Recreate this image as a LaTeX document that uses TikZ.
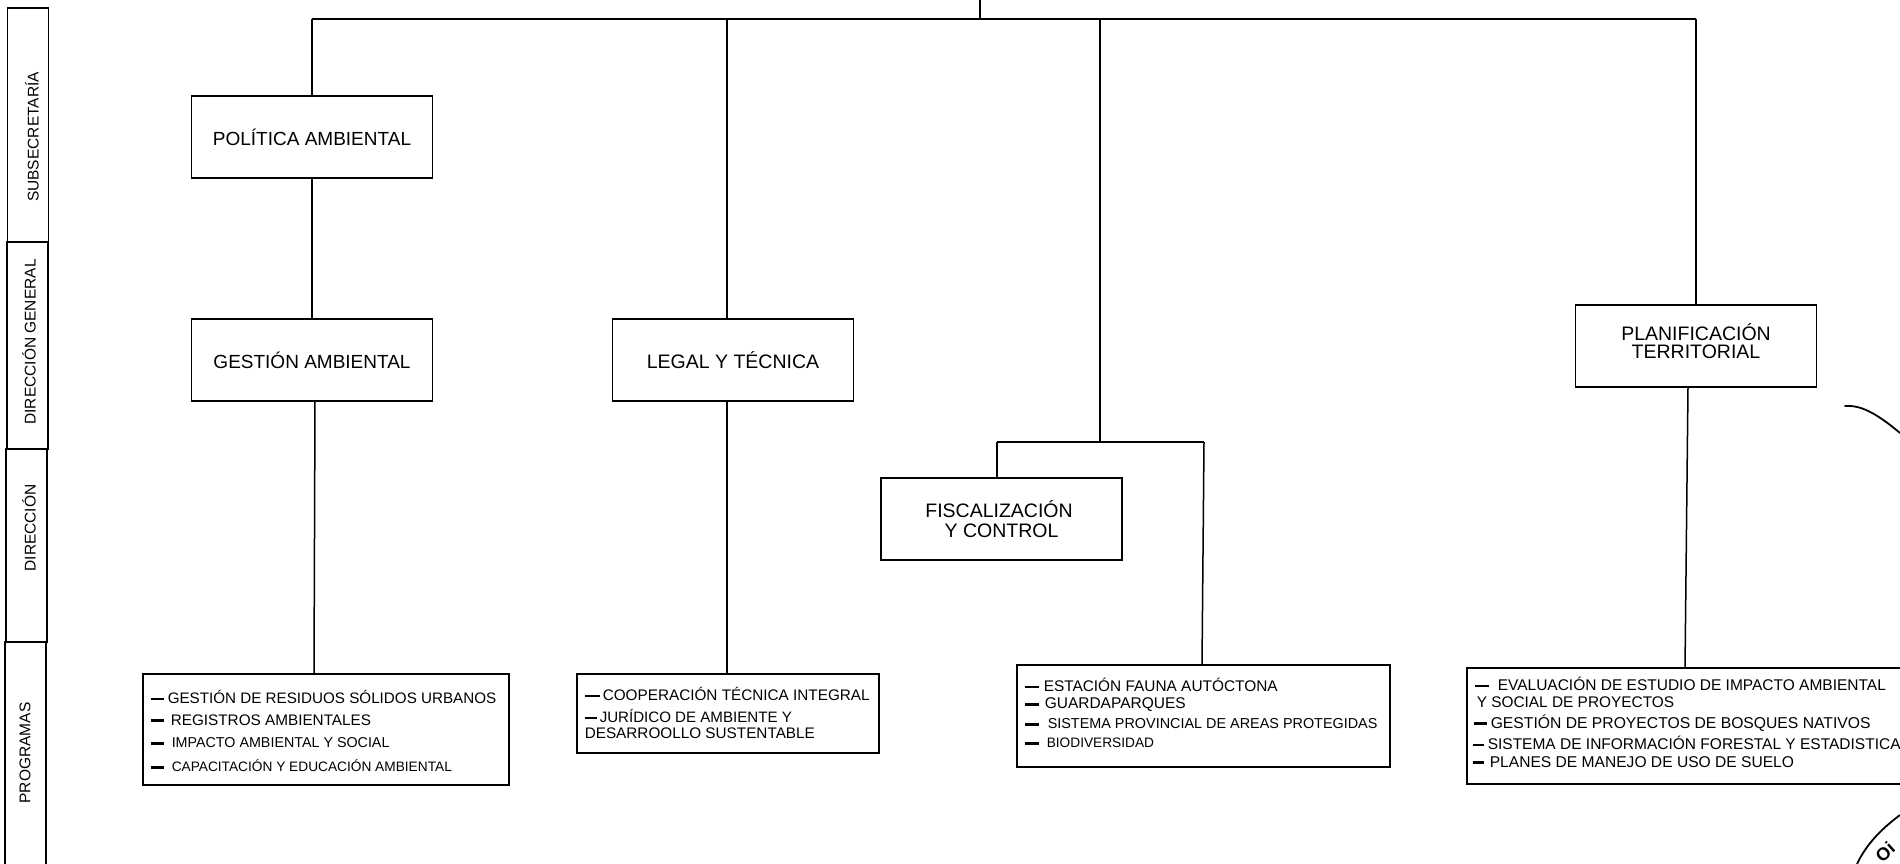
\documentclass[tikz,border=0pt]{standalone}
\usepackage{fontspec}
\setmainfont{Liberation Sans}
\newcommand{\itemdash}[2][13]{\rule[.22em]{#1pt}{2.6pt}\hspace*{#2pt}}

\begin{document}
\begin{tikzpicture}[x=1pt, y=-1pt, line width=1.5pt, node distance={223pt},
    main/.style = {draw, minimum width=241pt, minimum height=82pt, inner sep=0pt, align=center, font=\fontsize{19.5}{18.5}\selectfont},
    prog/.style = {draw, inner sep=0pt},
    side/.style = {draw, inner sep=0pt, minimum width=41pt},
    sidetext/.style = {rotate=90, inner sep=0pt, font=\fontsize{15.5}{16}\selectfont},
    item/.style = {anchor=west, inner sep=0pt, font=\fontsize{#1}{14}\selectfont}]
    \useasboundingbox (0,0) rectangle (1900,864);

    % left column
    \node[side, minimum height=234pt] (sub) at (28,125) {};
    \node[side, minimum height=207pt] (dirg) at (27.5,345.5) {};
    \node[side, minimum height=193pt] (dir) at (26.5,545.5) {};
    \node[side, minimum height=228pt] (progr) at (25.5,756) {};
    \node[sidetext] (subt) at (32,137) {SUBSECRETARÍA};
    \node[sidetext] (dirgt) at (29,342) {DIRECCIÓN GENERAL};
    \node[sidetext] (dirt) at (29,528) {DIRECCIÓN};
    \node[sidetext] (progrt) at (25,753) {PROGRAMAS};

    % boxes
    \node[main, font=\fontsize{19}{18.5}\selectfont] (politica) at (312,137) {POLÍTICA AMBIENTAL};
    \node[main, font=\fontsize{19}{18.5}\selectfont] (gestion) [below of=politica] {GESTIÓN AMBIENTAL};
    \node[main] (legal) at (733,360) {LEGAL Y TÉCNICA};
    \node[main] (fiscal) at (1001.5,519) {FISCALIZACIÓN\hspace*{5pt}\\[1.5pt] Y CONTROL};
    \node[main] (planif) at (1696,346) {PLANIFICACIÓN\\TERRITORIAL\\[-8.5pt]};

    \node[prog, minimum width=366pt, minimum height=111pt] (prog1) at (326,729.5) {};
    \node[prog, minimum width=302pt, minimum height=79pt] (prog2) at (728,713.5) {};
    \node[prog, minimum width=373pt, minimum height=102pt] (prog3) at (1203.5,716) {};
    \node[prog, minimum width=440pt, minimum height=116pt] (prog4) at (1687,726) {};

    % program lines
    \node[item=15.2] (a1) at (150,697) {\itemdash{4}GESTIÓN DE RESIDUOS SÓLIDOS URBANOS};
    \node[item=15.3] (a2) at (150,720) {\itemdash{7}REGISTROS AMBIENTALES};
    \node[item=14.3] (a3) at (150,743) {\itemdash{8}IMPACTO AMBIENTAL Y SOCIAL};
    \node[item=13.7] (a4) at (150,766) {\itemdash{8}CAPACITACIÓN Y EDUCACIÓN AMBIENTAL};

    \node[item=15.3] (b1) at (584,694) {\itemdash[15]{3}COOPERACIÓN TÉCNICA INTEGRAL};
    \node[item=15.1] (b2) at (584,716) {\itemdash[12]{3}JURÍDICO DE AMBIENTE Y};
    \node[item=15.3] (b3) at (584,733) {DESARROOLLO SUSTENTABLE};

    \node[item=15.4] (c1) at (1024,685) {\itemdash[14]{5}ESTACIÓN FAUNA AUTÓCTONA};
    \node[item=15.5] (c2) at (1024,705) {\itemdash[14]{6}GUARDAPARQUES};
    \node[item=14.4] (c3) at (1024,724) {\itemdash[14]{9}SISTEMA PROVINCIAL DE AREAS PROTEGIDAS};
    \node[item=13.7] (c4) at (1024,743) {\itemdash[14]{8}BIODIVERSIDAD};

    \node[item=15.5] (d1) at (1474,684) {\itemdash[14]{9}EVALUACIÓN DE ESTUDIO DE IMPACTO AMBIENTAL};
    \node[item=15.4] (d2) at (1476,702) {Y SOCIAL DE PROYECTOS};
    \node[item=15.7] (d3) at (1473,723) {\itemdash{4}GESTIÓN DE PROYECTOS DE BOSQUES NATIVOS};
    \node[item=15.5] (d4) at (1472,743) {\itemdash[11]{4}SISTEMA DE INFORMACIÓN FORESTAL Y ESTADISTICA};
    \node[item=15.6] (d5) at (1472,762) {\itemdash[11]{6}PLANES DE MANEJO DE USO DE SUELO};

    % top bar
    \coordinate (top) at (980,0);
    \coordinate (bar) at (980,19);
    \coordinate (barl) at (312,19);
    \coordinate (barm) at (727,19);
    \coordinate (barc) at (1100,19);
    \coordinate (barr) at (1696,19);
    \coordinate (legalt) at (727,319);
    \coordinate (legalb) at (727,401);
    \coordinate (prog2t) at (727,674);
    \coordinate (gestb) at (315,401);
    \coordinate (prog1t) at (314,674);
    \coordinate (junc) at (1100,442);
    \coordinate (juncl) at (997,442);
    \coordinate (juncr) at (1204,442);
    \coordinate (fiscalt) at (997,478);
    \coordinate (prog3t) at (1202,665);
    \coordinate (planb) at (1688,387);
    \coordinate (prog4t) at (1685,668);

    \draw (top) -- (bar);
    \draw (barl) -- (barr);
    \draw (barl) -- (politica);
    \draw (politica) -- (gestion);
    \draw (gestb) -- (prog1t);
    \draw (barm) -- (legalt);
    \draw (legalb) -- (prog2t);
    \draw (barc) -- (junc);
    \draw (juncl) -- (juncr);
    \draw (juncl) -- (fiscalt);
    \draw (juncr) -- (prog3t);
    \draw (barr) -- (planif);
    \draw (planb) -- (prog4t);

    % stamp
    \draw[line width=1.8pt, line cap=round] (1845,406) .. controls (1860,405) and (1875,412) .. (1900,433);
    \draw[line width=1.8pt] (1857,864) .. controls (1866,845) and (1880,830) .. (1900,815);
    \node[rotate=42, inner sep=0pt, font=\bfseries\fontsize{18}{18}\selectfont] (stamp) at (1885,852) {Oi};
\end{tikzpicture}
\end{document}
